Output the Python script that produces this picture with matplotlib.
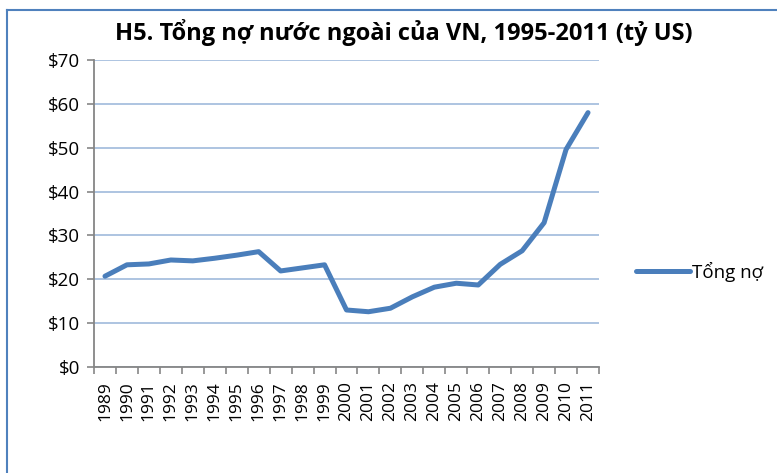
import numpy as np
import matplotlib.pyplot as plt
from matplotlib.lines import Line2D

plt.rcParams['font.family'] = ['Open Sans', 'DejaVu Sans']

years = [str(y) for y in range(1989, 2012)]
tong_no = [20.7, 23.3, 23.5, 24.4, 24.2, 24.8, 25.5, 26.3, 21.9, 22.6, 23.3,
           13.0, 12.6, 13.4, 16.0, 18.2, 19.1, 18.7, 23.4, 26.5, 32.9, 49.6, 58.0]
yticks = [0, 10, 20, 30, 40, 50, 60, 70]

fig = plt.figure(figsize=(7.77, 4.73), dpi=100)
ax = fig.add_axes([94 / 777, 1 - 367 / 473, 505 / 777, 307 / 473])

x = np.arange(len(years))
ax.plot(x, tong_no, color='#4A7EBB', lw=3.6, solid_capstyle='round',
        solid_joinstyle='round', label='Tổng nợ', zorder=3)

ax.set_xlim(-0.5, len(years) - 0.5)
ax.set_ylim(0, 70)
ax.set_yticks(yticks)
ax.set_yticklabels(['$' + str(v) for v in yticks], fontsize=13.5)
ax.set_xticks(x)
ax.set_xticklabels(years, rotation=90, fontsize=12.5)
ax.set_xticks(np.arange(-0.5, len(years)), minor=True)
ax.tick_params(axis='x', which='major', length=0, pad=10)
ax.tick_params(axis='x', which='minor', length=5, color='#868686', width=1.2)
ax.tick_params(axis='y', length=5, color='#868686', width=1.2, pad=5)

ax.grid(axis='y', color='#A7BFDE', lw=1.3)
ax.set_axisbelow(True)
for s in ['top', 'right']:
    ax.spines[s].set_visible(False)
for s in ['left', 'bottom']:
    ax.spines[s].set_color('#868686')
    ax.spines[s].set_linewidth(1.3)

fig.text(404 / 777, 1 - 33 / 473, 'H5. Tổng nợ nước ngoài của VN, 1995-2011 (tỷ US)',
         ha='center', va='center', fontsize=17, fontweight='bold')

ax.legend(loc='center left', bbox_to_anchor=(1.04, 0.31), frameon=False,
          fontsize=13.5, handlelength=2.9, handletextpad=0.1)

fig.add_artist(Line2D([7 / 777, 7 / 777], [0, 1 - 10 / 473], color='#4F81BD', lw=1.5))
fig.add_artist(Line2D([7 / 777, 1], [1 - 10 / 473, 1 - 10 / 473], color='#4F81BD', lw=1.5))

fig.savefig('out.png', dpi=100)
